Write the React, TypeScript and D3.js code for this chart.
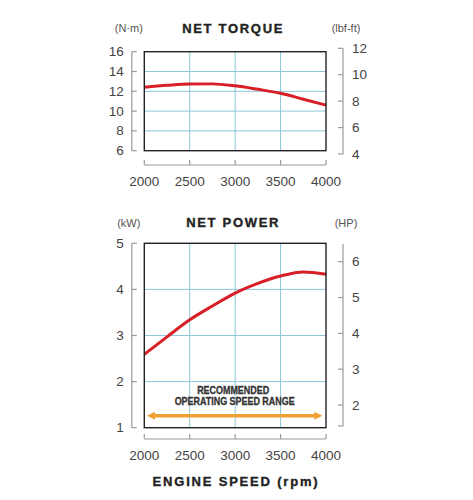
import React from "react";
import * as d3 from "d3";

const rpm = [2000, 2250, 2500, 2750, 3000, 3250, 3500, 3750, 4000];
const torqueNm = [12.4, 12.6, 12.74, 12.75, 12.55, 12.2, 11.8, 11.2, 10.6];
const powerKw = [2.59, 2.97, 3.34, 3.64, 3.92, 4.13, 4.29, 4.38, 4.33];
const rpmTicks = [2000, 2500, 3000, 3500, 4000];
const torqueNmTicks = [6, 8, 10, 12, 14, 16];
const torqueLbfTicks = [4, 6, 8, 10, 12];
const powerKwTicks = [1, 2, 3, 4, 5];
const powerHpTicks = [2, 3, 4, 5, 6];
const rangeRpm = [2030, 3960];
const rangeKw = 1.26;

const FONT = "'Liberation Sans', Arial, sans-serif";
const GRID = "#8cc6da";
const AXIS = "#9a9a9a";
const TICKTXT = "#444";

type PanelProps = {
  x: d3.ScaleLinear<number, number>;
  yL: d3.ScaleLinear<number, number>;
  yR: d3.ScaleLinear<number, number>;
  lTicks: number[];
  rTicks: number[];
  values: number[];
  title: string;
  lUnit: string;
  rUnit: string;
  titleY: number;
  bottomAxisY: number;
  rAxisExtent: [number, number];
  rEndTicks: number[];
  children?: React.ReactNode;
};

function Panel(p: PanelProps) {
  const { x, yL, yR } = p;
  const [x0, x1] = x.range();
  const [yb, yt] = yL.range();
  const lAxisX = x0 - 12.5;
  const rAxisX = x1 + 17;
  const line = d3
    .line<number>()
    .x((_, i) => x(rpm[i]))
    .y((d) => yL(d))
    .curve(d3.curveMonotoneX);
  const midX = (x0 + x1) / 2;
  return (
    <g>
      <text x={midX - 2} y={p.titleY} textAnchor="middle" dominantBaseline="central"
        fontFamily={FONT} fontWeight="bold" fontSize={13} letterSpacing={1.7} fill="#222"
        stroke="#222" strokeWidth={0.35}>
        {p.title}
      </text>
      <text x={lAxisX - 3} y={p.titleY} textAnchor="middle" dominantBaseline="central"
        fontFamily={FONT} fontSize={11} fill="#555">{p.lUnit}</text>
      <text x={rAxisX + 3} y={p.titleY} textAnchor="middle" dominantBaseline="central"
        fontFamily={FONT} fontSize={11} fill="#555">{p.rUnit}</text>

      {p.lTicks.slice(1, -1).map((t) => (
        <line key={"h" + t} x1={x0} x2={x1} y1={yL(t)} y2={yL(t)} stroke={GRID} strokeWidth={1} />
      ))}
      {rpmTicks.slice(1, -1).map((t) => (
        <line key={"v" + t} x1={x(t)} x2={x(t)} y1={yt} y2={yb} stroke={GRID} strokeWidth={1} />
      ))}

      {p.children}

      <path d={line(p.values) || ""} fill="none" stroke="#d81e26" strokeWidth={3} />

      <rect x={x0} y={yt} width={x1 - x0} height={yb - yt} fill="none" stroke="#222" strokeWidth={1.4} />

      <line x1={lAxisX} x2={lAxisX} y1={yt} y2={yb} stroke={AXIS} strokeWidth={1.2} />
      {p.lTicks.map((t) => (
        <g key={"l" + t}>
          <line x1={lAxisX} x2={lAxisX + 5} y1={yL(t)} y2={yL(t)} stroke={AXIS} strokeWidth={1.2} />
          <text x={lAxisX - 8} y={yL(t)} textAnchor="end" dominantBaseline="central"
            fontFamily={FONT} fontSize={13.5} fill={TICKTXT}>{t}</text>
        </g>
      ))}

      <line x1={rAxisX} x2={rAxisX} y1={p.rAxisExtent[0]} y2={p.rAxisExtent[1]} stroke={AXIS} strokeWidth={1.2} />
      {p.rEndTicks.map((yy, i) => (
        <line key={"re" + i} x1={rAxisX - 5} x2={rAxisX} y1={yy} y2={yy} stroke={AXIS} strokeWidth={1.2} />
      ))}
      {p.rTicks.map((t) => (
        <g key={"r" + t}>
          <line x1={rAxisX - 5} x2={rAxisX} y1={yR(t)} y2={yR(t)} stroke={AXIS} strokeWidth={1.2} />
          <text x={rAxisX + 9} y={yR(t)} textAnchor="start" dominantBaseline="central"
            fontFamily={FONT} fontSize={13.5} fill={TICKTXT}>{t}</text>
        </g>
      ))}

      <line x1={x0} x2={x1} y1={p.bottomAxisY} y2={p.bottomAxisY} stroke={AXIS} strokeWidth={1.2} />
      {rpmTicks.map((t) => (
        <g key={"b" + t}>
          <line x1={x(t)} x2={x(t)} y1={p.bottomAxisY} y2={p.bottomAxisY - 5} stroke={AXIS} strokeWidth={1.2} />
          <text x={x(t)} y={p.bottomAxisY + 16} textAnchor="middle" dominantBaseline="central"
            fontFamily={FONT} fontSize={13.5} fill={TICKTXT}>{t}</text>
        </g>
      ))}
    </g>
  );
}

export default function App() {
  const x = d3.scaleLinear().domain([2000, 4000]).range([144.3, 326]);

  const tqL = d3.scaleLinear().domain([6, 16]).range([150.7, 51.7]);
  const tqR = d3.scaleLinear().domain([4, 12]).range([154, 48.3]);

  const pwL = d3.scaleLinear().domain([1, 5]).range([427.7, 243.3]);
  const pwR = d3.scaleLinear().domain([2, 6]).range([405, 261.7]);

  const ay = pwL(rangeKw);
  const ax0 = x(rangeRpm[0]);
  const ax1 = x(rangeRpm[1]);
  const orange = "#f0a032";
  const midX = (x(2000) + x(4000)) / 2;

  return (
    <svg width={473} height={500} style={{ position: "absolute", left: 0, top: 0, background: "#fff" }}>
      <rect width={473} height={500} fill="#fff" />
      <Panel x={x} yL={tqL} yR={tqR} lTicks={torqueNmTicks} rTicks={torqueLbfTicks}
        values={torqueNm} title="NET TORQUE" lUnit="(N·m)" rUnit="(lbf-ft)" titleY={28}
        bottomAxisY={165} rAxisExtent={[tqR(12), tqR(4)]} rEndTicks={[]} />
      <Panel x={x} yL={pwL} yR={pwR} lTicks={powerKwTicks} rTicks={powerHpTicks}
        values={powerKw} title="NET POWER" lUnit="(kW)" rUnit="(HP)" titleY={222.5}
        bottomAxisY={439} rAxisExtent={[244, 426]} rEndTicks={[426]}>
        <text x={midX - 2} y={390} textAnchor="middle" dominantBaseline="central"
          fontFamily={FONT} fontWeight="bold" fontSize={10} fill="#333" stroke="#333" strokeWidth={0.3}
          textLength={72} lengthAdjust="spacingAndGlyphs">RECOMMENDED</text>
        <text x={midX - 0.5} y={401.7} textAnchor="middle" dominantBaseline="central"
          fontFamily={FONT} fontWeight="bold" fontSize={10} fill="#333" stroke="#333" strokeWidth={0.3}
          textLength={120} lengthAdjust="spacingAndGlyphs">OPERATING SPEED RANGE</text>
        <line x1={ax0 + 5} x2={ax1 - 5} y1={ay} y2={ay} stroke={orange} strokeWidth={3.6} />
        <path d={`M${ax0},${ay} L${ax0 + 8},${ay - 4} L${ax0 + 8},${ay + 4} Z`} fill={orange} />
        <path d={`M${ax1},${ay} L${ax1 - 8},${ay - 4} L${ax1 - 8},${ay + 4} Z`} fill={orange} />
      </Panel>
      <text x={236} y={481.7} textAnchor="middle" dominantBaseline="central"
        fontFamily={FONT} fontWeight="bold" fontSize={13} letterSpacing={1.8} fill="#222"
        stroke="#222" strokeWidth={0.35}>
        ENGINE SPEED (rpm)
      </text>
    </svg>
  );
}
